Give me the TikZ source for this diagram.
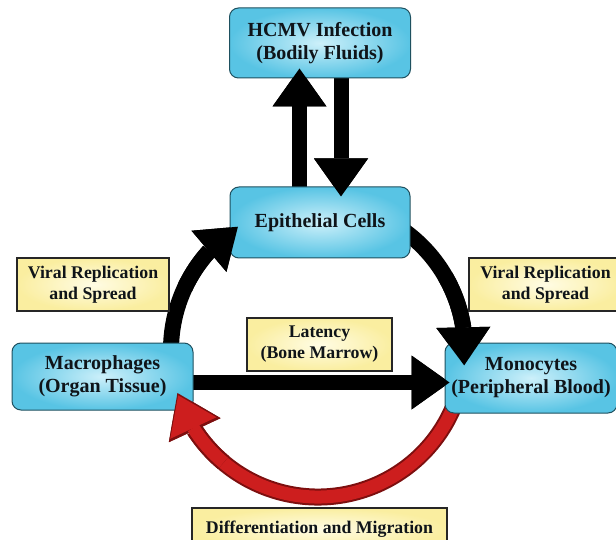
\documentclass[tikz,border=0pt]{standalone}
\usepackage{fontspec}
\setmainfont{Liberation Serif}
\usetikzlibrary{arrows.meta,bending,calc}
\definecolor{boxcyan}{RGB}{88,196,228}
\definecolor{boxlight}{RGB}{205,240,250}
\definecolor{boxedge}{RGB}{30,80,95}
\definecolor{yfill}{RGB}{250,238,160}
\definecolor{ylight}{RGB}{255,252,228}
\definecolor{redarc}{RGB}{205,30,30}
\definecolor{rededge}{RGB}{125,15,15}
\definecolor{txt}{RGB}{15,20,25}
\pgfdeclarelayer{bg}
\pgfsetlayers{bg,main}
\begin{document}
\begin{tikzpicture}[x=1pt,y=-1pt,
  mainbox/.style={draw=boxedge, line width=1pt, rounded corners=9pt,
    inner color=boxlight, outer color=boxcyan, inner sep=0pt, align=center,
    font=\fontsize{20}{23}\selectfont\bfseries, text=txt},
  labelbox/.style={draw=black!85, line width=1.3pt,
    inner color=ylight, outer color=yfill, inner sep=0pt, align=center,
    font=\fontsize{17.8}{21}\selectfont\bfseries, text=txt},
  blackarrow/.style={draw=black, line width=16pt,
    -{Triangle[width=54pt,length=38pt,line width=0pt]}},
  redouter/.style={draw=rededge, line width=17pt,
    -{Triangle[width=57pt,length=41pt,line width=0pt]}},
  redinner/.style={draw=redarc, line width=13pt, shorten >=2.5pt,
    -{Triangle[width=51pt,length=36pt,line width=0pt]}}
]
\useasboundingbox (0,0) rectangle (616,540);
\clip (0,0) rectangle (616,540);

% nodes
\node[mainbox, minimum width=181pt, minimum height=70pt] (hcmv) at (320,43) {HCMV Infection\\(Bodily Fluids)};
\node[mainbox, minimum width=180pt, minimum height=71pt] (epi) at (320,222.5) {Epithelial Cells};
\node[mainbox, minimum width=181pt, minimum height=67pt] (mac) at (102.5,376.5) {Macrophages\\(Organ Tissue)};
\node[mainbox, minimum width=172pt, minimum height=70pt] (mono) at (531,378) {Monocytes\\(Peripheral Blood)};
\node[labelbox, minimum width=152pt, minimum height=53pt] (vrsl) at (93,284.5) {Viral Replication\\and Spread};
\node[labelbox, minimum width=153pt, minimum height=53pt] (vrsr) at (545.5,284.5) {Viral Replication\\and Spread};
\node[labelbox, minimum width=145pt, minimum height=53pt] (lat) at (319.5,344.5) {Latency\\(Bone Marrow)};
\node[labelbox, minimum width=255pt, minimum height=42pt] (diff) at (319.5,529) {Differentiation and Migration};
\coordinate (ctr) at (318,350);

% full connectors, under the boxes
\begin{pgfonlayer}{bg}
  \fill[white] (0,0) rectangle (616,540);
  \draw[blackarrow, line width=15pt] ($(epi.north)+(-20.5,10)$) -- ($(hcmv.south)+(-20.5,-10)$);
  \draw[blackarrow, line width=15pt] ($(hcmv.south)+(21,-10)$) -- ($(epi.north)+(21,10)$);
  \draw[blackarrow, line width=15pt] ($(mac.east)+(-10,6)$) -- ($(mono.west)+(5,4.5)$);
  \draw[blackarrow] ($(ctr)+(175:147)$) arc[start angle=175, end angle=237, radius=147];
  \draw[blackarrow] ($(ctr)+(-60:147)$) arc[start angle=-60, end angle=6, radius=147];
  \draw[redouter] ($(ctr)+(20:147)$) arc[start angle=20, end angle=163, radius=147];
  \draw[redinner] ($(ctr)+(20:147)$) arc[start angle=20, end angle=163, radius=147];
\end{pgfonlayer}

% arrow heads over the target boxes
\draw[blackarrow, line width=15pt] ($(hcmv.south)+(-20.5,45)$) -- ($(hcmv.south)+(-20.5,-10)$);
\draw[blackarrow, line width=15pt] ($(epi.north)+(21,-50)$) -- ($(epi.north)+(21,10)$);
\draw[blackarrow, line width=15pt] ($(mono.west)+(-60,4.5)$) -- ($(mono.west)+(5,4.5)$);
\draw[blackarrow] ($(ctr)+(205:147)$) arc[start angle=205, end angle=237, radius=147];
\draw[blackarrow] ($(ctr)+(-30:147)$) arc[start angle=-30, end angle=6, radius=147];
\draw[redouter] ($(ctr)+(130:147)$) arc[start angle=130, end angle=163, radius=147];
\draw[redinner] ($(ctr)+(130:147)$) arc[start angle=130, end angle=163, radius=147];
\end{tikzpicture}
\end{document}
